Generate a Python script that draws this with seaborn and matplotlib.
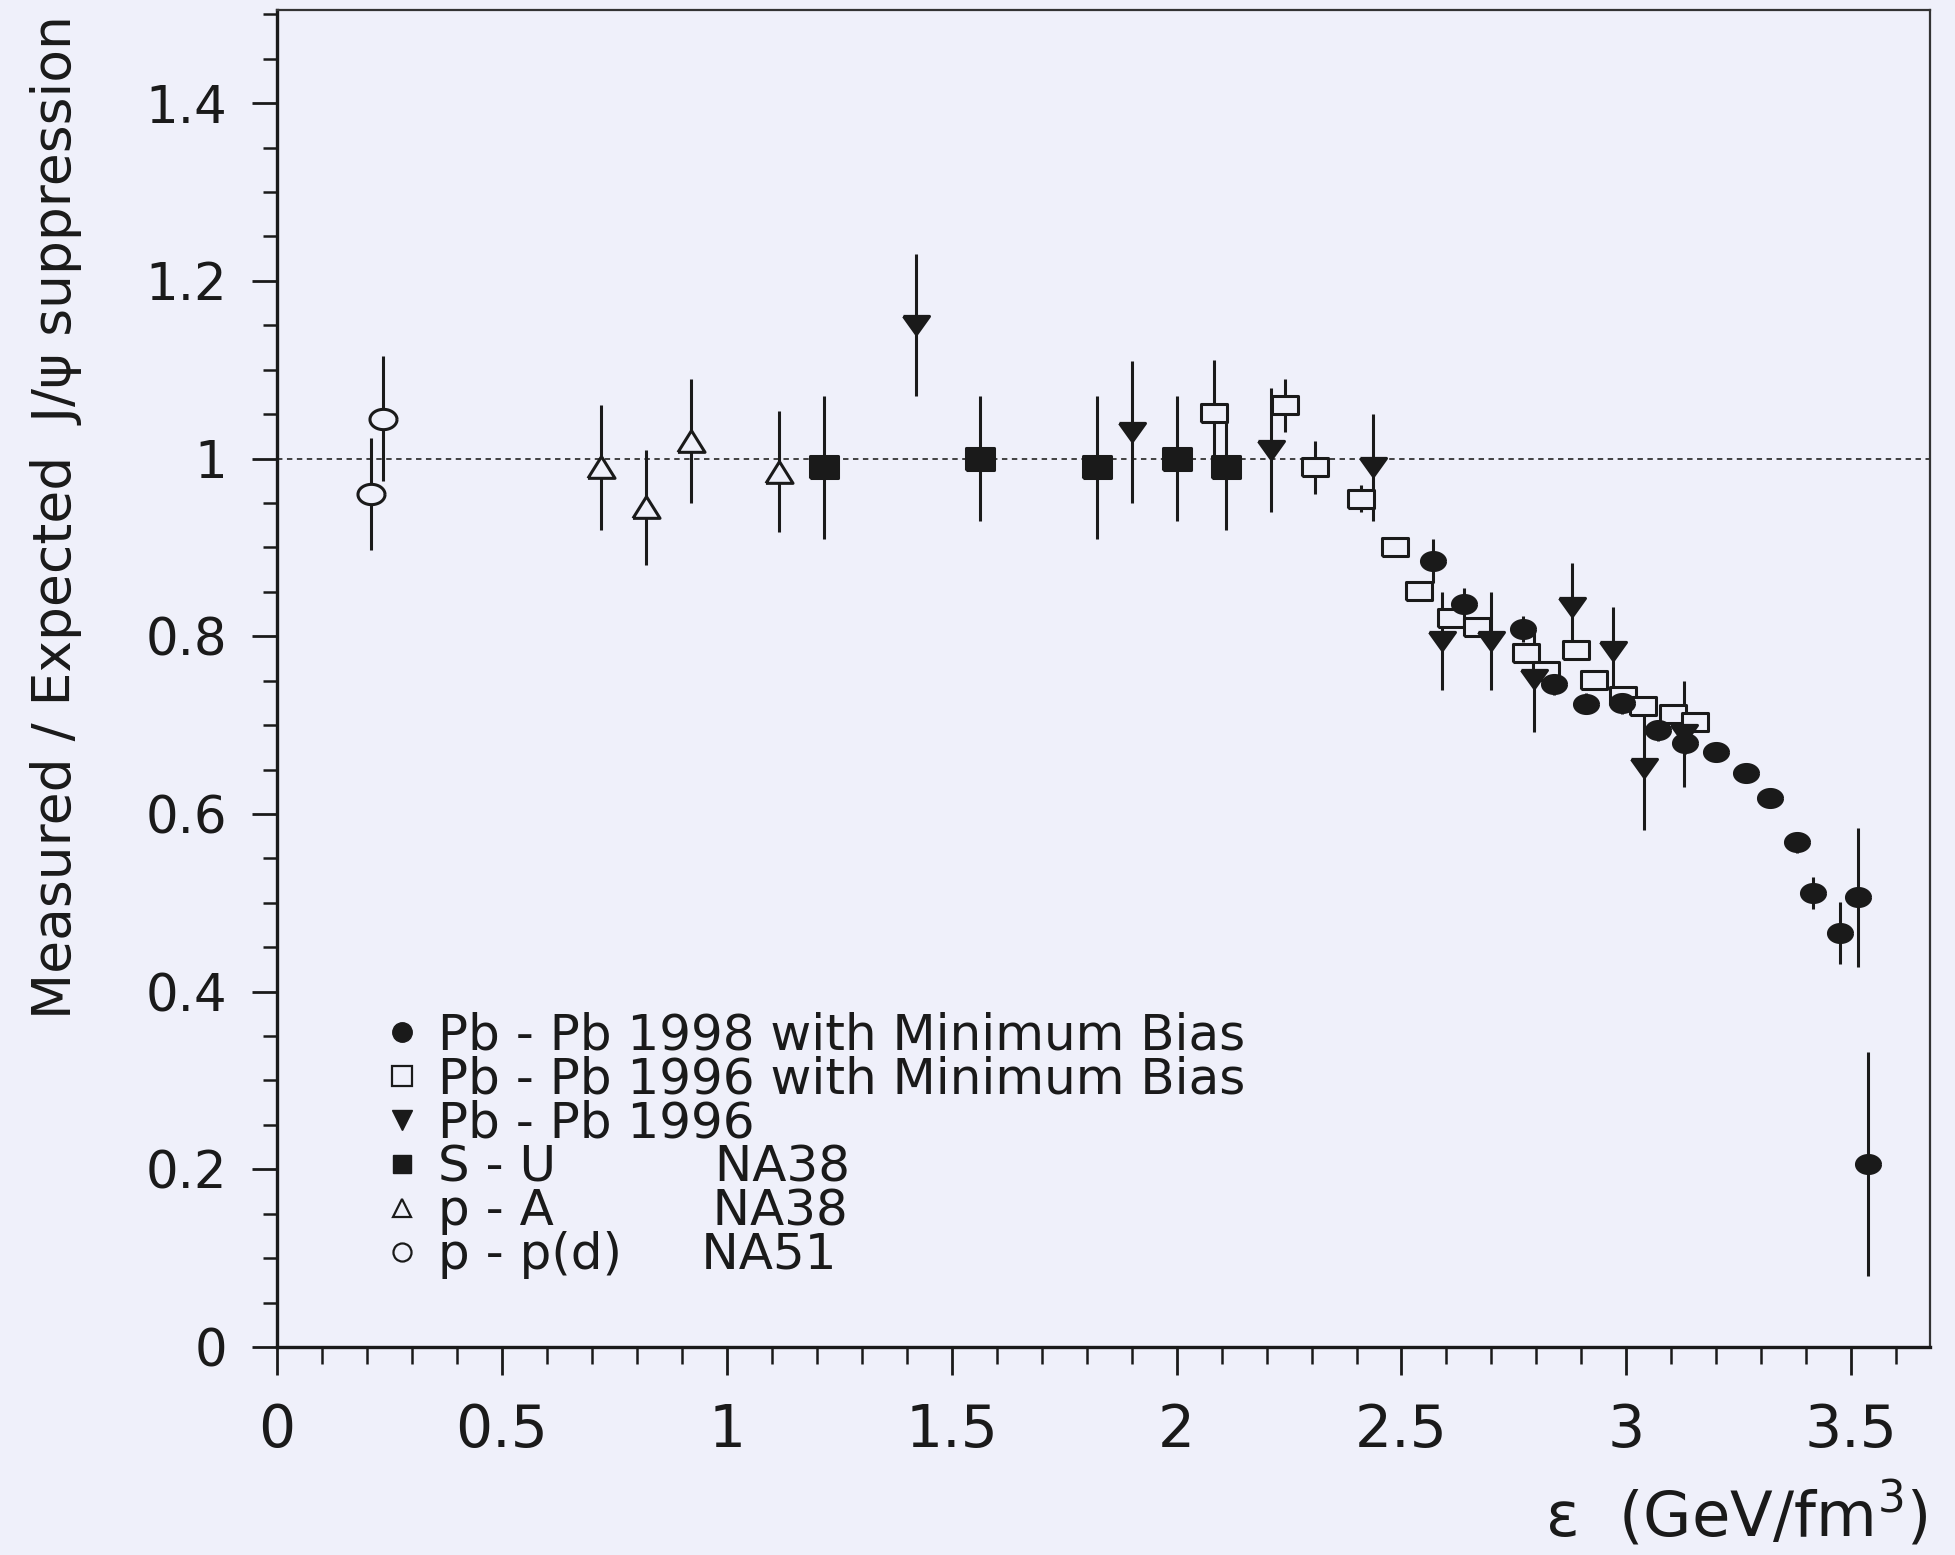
import numpy as np
import pandas as pd
import seaborn as sns
import matplotlib.pyplot as plt
from matplotlib.lines import Line2D
from matplotlib.markers import MarkerStyle
from matplotlib.ticker import AutoMinorLocator

# Pb - Pb 1998 with Minimum Bias (filled circles)
pb98_x = [2.57, 2.64, 2.77, 2.84, 2.91, 2.99, 3.07, 3.13, 3.20, 3.265, 3.32, 3.38, 3.415, 3.475, 3.515, 3.537]
pb98_y = [0.885, 0.836, 0.808, 0.746, 0.724, 0.725, 0.694, 0.68, 0.67, 0.646, 0.618, 0.568, 0.511, 0.466, 0.506, 0.206]
pb98_err = [0.025, 0.018, 0.015, 0.012, 0.012, 0.012, 0.012, 0.012, 0.01, 0.01, 0.01, 0.012, 0.018, 0.035, 0.078, 0.126]

# Pb - Pb 1996 with Minimum Bias (open squares)
pb96mb_x = [2.083, 2.24, 2.308, 2.41, 2.485, 2.539, 2.61, 2.669, 2.776, 2.822, 2.889, 2.928, 2.993, 3.036, 3.103, 3.153]
pb96mb_y = [1.051, 1.06, 0.99, 0.955, 0.901, 0.851, 0.82, 0.81, 0.781, 0.761, 0.785, 0.751, 0.733, 0.721, 0.713, 0.703]
pb96mb_err = [0.06, 0.03, 0.03, 0.015, 0.01, 0.01, 0.01, 0.01, 0.01, 0.01, 0.01, 0.01, 0.01, 0.01, 0.01, 0.01]

# Pb - Pb 1996 (filled down triangles)
pb96_x = [1.42, 1.90, 2.21, 2.437, 2.59, 2.70, 2.795, 2.88, 2.97, 3.04, 3.128]
pb96_y = [1.15, 1.03, 1.01, 0.99, 0.795, 0.795, 0.752, 0.833, 0.783, 0.652, 0.69]
pb96_err = [0.08, 0.08, 0.07, 0.06, 0.055, 0.055, 0.06, 0.05, 0.05, 0.07, 0.06]

# S - U NA38 (filled squares)
su_x = [1.215, 1.562, 1.822, 2.0, 2.11]
su_y = [0.99, 1.0, 0.99, 1.0, 0.99]
su_err = [0.08, 0.07, 0.08, 0.07, 0.07]

# p - A NA38 (open up triangles)
pa_x = [0.72, 0.82, 0.92, 1.115]
pa_y = [0.99, 0.945, 1.02, 0.985]
pa_err = [0.07, 0.065, 0.07, 0.068]

# p - p(d) NA51 (open circles)
pp_x = [0.21, 0.235]
pp_y = [0.96, 1.045]
pp_err = [0.063, 0.07]

legend_labels = ["Pb - Pb 1998 with Minimum Bias",
                 "Pb - Pb 1996 with Minimum Bias",
                 "Pb - Pb 1996",
                 "S - U          NA38",
                 "p - A          NA38",
                 "p - p(d)     NA51"]

x_ticks = [0, 0.5, 1, 1.5, 2, 2.5, 3, 3.5]
x_ticklabels = ["0", "0.5", "1", "1.5", "2", "2.5", "3", "3.5"]
y_ticks = [0, 0.2, 0.4, 0.6, 0.8, 1.0, 1.2, 1.4]
y_ticklabels = ["0", "0.2", "0.4", "0.6", "0.8", "1", "1.2", "1.4"]

sns.set_theme(style="ticks")
plt.rcParams["font.family"] = ["DejaVu Sans"]

bg = "#eff0fa"
ink = "#1a1a1a"

fig, ax = plt.subplots(figsize=(19.55, 15.55), dpi=100)
fig.patch.set_facecolor(bg)
ax.set_facecolor(bg)
fig.subplots_adjust(left=0.1417, right=0.9872, bottom=0.1338, top=0.9936)

# marker shapes (scanned figure is a bit stretched sideways)
t = np.linspace(0, 2 * np.pi, 48)
ell = MarkerStyle(np.column_stack([np.cos(t), 0.75 * np.sin(t)]))
rect = MarkerStyle(np.array([[-1, -0.72], [1, -0.72], [1, 0.72], [-1, 0.72], [-1, -0.72]]))
rect_f = MarkerStyle(np.array([[-1, -0.8], [1, -0.8], [1, 0.8], [-1, 0.8], [-1, -0.8]]))
tri_dn = MarkerStyle(np.array([[-1, 0.7], [1, 0.7], [0, -0.7], [-1, 0.7]]))
tri_up = MarkerStyle(np.array([[-1, -0.8], [1, -0.8], [0, 0.8], [-1, -0.8]]))

ax.axhline(1.0, color="#333333", lw=1.3, ls=(0, (3, 2.5)), zorder=0.5)

series = [
    (pp_x, pp_y, pp_err, ell, bg, 380),
    (pa_x, pa_y, pa_err, tri_up, bg, 380),
    (su_x, su_y, su_err, rect_f, ink, 400),
    (pb96mb_x, pb96mb_y, pb96mb_err, rect, bg, 330),
    (pb96_x, pb96_y, pb96_err, tri_dn, ink, 350),
    (pb98_x, pb98_y, pb98_err, ell, ink, 300),
]

for i, (xs, ys, es, mk, fc, sz) in enumerate(series):
    df = pd.DataFrame({"x": xs, "y": ys, "err": es})
    ax.errorbar(df["x"], df["y"], yerr=df["err"], fmt="none", ecolor=ink,
                elinewidth=2.2, capsize=0, zorder=1)
    sns.scatterplot(data=df, x="x", y="y", marker=mk, s=sz, facecolor=fc,
                    edgecolor=ink, linewidth=2.2, zorder=3 + i, ax=ax, legend=False)

ax.set_xlim(0, 3.675)
ax.set_ylim(0, 1.505)
ax.set_xticks(x_ticks)
ax.set_xticklabels(x_ticklabels)
ax.set_yticks(y_ticks)
ax.set_yticklabels(y_ticklabels)
ax.xaxis.set_minor_locator(AutoMinorLocator(5))
ax.yaxis.set_minor_locator(AutoMinorLocator(4))
ax.tick_params(axis="x", which="major", length=20, width=2, pad=20, labelsize=42, color=ink, labelcolor=ink)
ax.tick_params(axis="x", which="minor", length=12, width=1.8, color=ink)
ax.tick_params(axis="y", which="major", length=18, width=2, pad=18, labelsize=37, color=ink, labelcolor=ink)
ax.tick_params(axis="y", which="minor", length=10, width=1.8, color=ink)
ax.set_xlabel("")
ax.set_ylabel("")

for side in ["left", "bottom"]:
    ax.spines[side].set_linewidth(2.4)
    ax.spines[side].set_color(ink)
for side in ["top", "right"]:
    ax.spines[side].set_linewidth(1.6)
    ax.spines[side].set_color("#333333")

fig.text(0.0286, 0.6675, "Measured / Expected  J/\u03c8 suppression", rotation=90,
         ha="center", va="center", fontsize=38.5, color=ink)
fig.text(0.986, 0.012, "\u03b5  (GeV/fm$^{3}$)", ha="right", va="baseline",
         fontsize=45, color=ink)

handles = [
    Line2D([], [], ls="none", marker="o", ms=14, mfc=ink, mec=ink),
    Line2D([], [], ls="none", marker="s", ms=14, mfc=bg, mec=ink, mew=1.6),
    Line2D([], [], ls="none", marker="v", ms=14, mfc=ink, mec=ink),
    Line2D([], [], ls="none", marker="s", ms=13, mfc=ink, mec=ink),
    Line2D([], [], ls="none", marker="^", ms=13, mfc=bg, mec=ink, mew=1.6),
    Line2D([], [], ls="none", marker="o", ms=13, mfc=bg, mec=ink, mew=1.6),
]
ax.legend(handles, legend_labels, loc="upper left", bbox_to_anchor=(0.064, 0.251),
          frameon=False, fontsize=36, handlelength=0.75, handletextpad=0.35,
          labelspacing=-0.08, borderpad=0, borderaxespad=0, labelcolor=ink)

fig.savefig("out.png", dpi=100, facecolor=bg)
